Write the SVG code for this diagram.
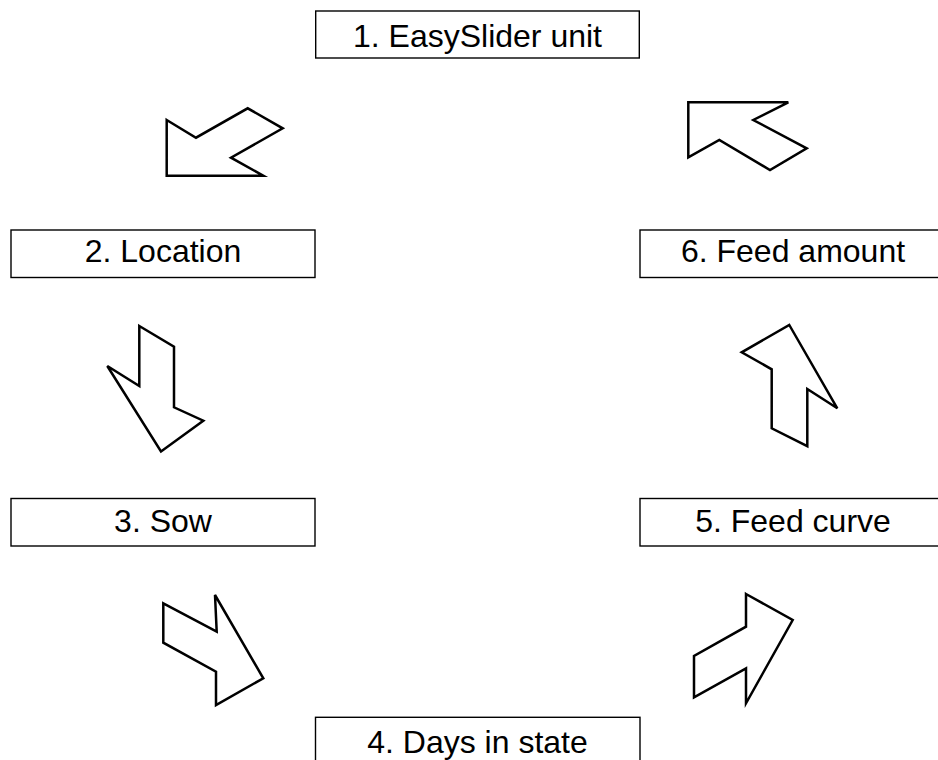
<svg xmlns="http://www.w3.org/2000/svg" width="938" height="760" viewBox="0 0 938 760">
  <style>
    .box { fill: #ffffff; stroke: #000000; stroke-width: 1.4; }
    .label { font-family: "Liberation Sans", Arial, sans-serif; font-size: 32px; fill: #000000; text-anchor: middle; }
    .arrow { fill: #ffffff; stroke: #000000; stroke-width: 2.5; stroke-linejoin: miter; }
  </style>
  <rect width="938" height="760" fill="#ffffff"/>

  <!-- connectors: block arrows going round the cycle -->
  <g id="connectors">
    <polygon class="arrow" points="166.7,120 196,137.7 247.7,108.3 282.7,128.3 231,157.7 263.3,175.7 166.7,175.7"/>
    <polygon class="arrow" points="139.3,326 174,346.7 174,407.3 203.3,420.7 161,451.5 107.3,366 139.3,386"/>
    <polygon class="arrow" points="163.3,603.3 216.7,631.7 215,595 263.3,678.3 216,705 216,671.7 163.3,642.7"/>
    <polygon class="arrow" points="746,594 792.7,620 746,703.3 746,668.3 694,697.3 694,656 746,626.7"/>
    <polygon class="arrow" points="789.3,325 837.3,408.3 807.3,389 807.3,446.2 771.7,428.3 771.7,369.3 741.7,352.3"/>
    <polygon class="arrow" points="688.3,102.3 788.3,102.3 753.3,120 806.7,148.3 770,170 719.3,140 688.3,157.3"/>
  </g>

  <g id="node1">
    <rect class="box" x="315.7" y="11" width="323.6" height="47"/>
    <text class="label" x="477.5" y="46.7">1. EasySlider unit</text>
  </g>
  <g id="node2">
    <rect class="box" x="11" y="230" width="304" height="47.5"/>
    <text class="label" x="163" y="261.7">2. Location</text>
  </g>
  <g id="node3">
    <rect class="box" x="11" y="498.5" width="304" height="47.5"/>
    <text class="label" x="163" y="531.7">3. Sow</text>
  </g>
  <g id="node4">
    <rect class="box" x="315.5" y="717.3" width="324.5" height="50"/>
    <text class="label" x="477.5" y="753.3">4. Days in state</text>
  </g>
  <g id="node5">
    <rect class="box" x="640" y="498.5" width="306" height="47.5"/>
    <text class="label" x="793" y="531.7">5. Feed curve</text>
  </g>
  <g id="node6">
    <rect class="box" x="640" y="230" width="306" height="47.5"/>
    <text class="label" x="793" y="261.7">6. Feed amount</text>
  </g>
</svg>
